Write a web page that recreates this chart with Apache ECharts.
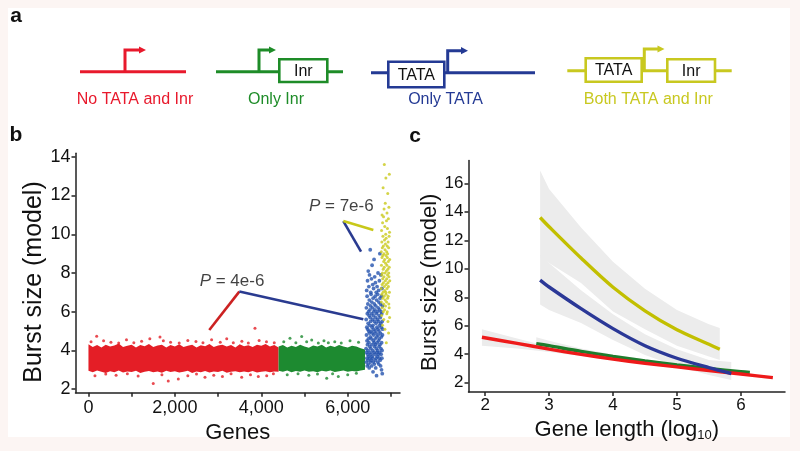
<!DOCTYPE html>
<html><head><meta charset="utf-8">
<script src="https://cdn.jsdelivr.net/npm/echarts@6/dist/echarts.min.js"></script>
<style>
html,body{margin:0;padding:0;background:#fcf5f3;}
#bg{position:absolute;left:8px;top:8px;width:782px;height:429px;background:#fff;}
#c{position:absolute;left:0;top:0;width:800px;height:451px;}
</style>
</head><body><div id="bg"></div><div id="c"></div>
<script>
// ---------------- DATA ----------------
// Panel a
const promoterNames = ['No TATA and Inr', 'Only Inr', 'Only TATA', 'Both TATA and Inr'];
const promoterBoxes = [[], ['Inr'], ['TATA'], ['TATA', 'Inr']];

// Panel b
const bXTicks = [0, 1000, 2000, 3000, 4000, 5000, 6000, 7000];
const bXLabels = [0, 2000, 4000, 6000];
const bYTicks = [2, 4, 6, 8, 10, 12, 14];
const envelopeStep = 100;
const redStartGene = 0;
const redUpper = [4.32,4.18,4.28,4.15,4.3,4.2,4.26,4.36,4.18,4.24,4.3,4.16,4.28,4.22,4.34,4.18,4.26,4.3,4.15,4.28,4.2,4.32,4.18,4.25,4.3,4.16,4.27,4.22,4.33,4.18,4.26,4.3,4.2,4.28,4.15,4.32,4.22,4.27,4.18,4.3,4.24,4.34,4.2,4.28,4.15];
const redLower = [2.95,2.88,2.96,2.9,2.84,2.93,2.88,2.96,2.86,2.92,2.89,2.95,2.84,2.9,2.94,2.87,2.92,2.85,2.95,2.89,2.93,2.86,2.9,2.95,2.84,2.91,2.88,2.94,2.86,2.92,2.89,2.95,2.85,2.9,2.93,2.87,2.92,2.88,2.94,2.86,2.9,2.93,2.87,2.92,2.9];
const greenStartGene = 4400;
const greenUpper = [4.2,4.28,4.15,4.25,4.18,4.3,4.2,4.14,4.26,4.2,4.3,4.16,4.24,4.18,4.28,4.2,4.15,4.25,4.2,4.12,4.05];
const greenLower = [2.95,2.9,2.96,2.88,2.94,2.9,2.97,2.9,2.93,2.88,2.95,2.91,2.96,2.89,2.93,2.97,2.9,2.94,2.92,2.96,3.0];
const redOutliers = [[190,4.74],[60,4.45],[350,4.5],[520,4.42],[700,4.38],[880,4.55],[1050,4.4],[1230,4.48],[1420,4.6],[1655,4.7],[1733,4.5],[1900,4.42],[2100,4.38],[2300,4.52],[2488,4.46],[2650,4.4],[2850,4.55],[3050,4.42],[3200,4.6],[3352,4.4],[3550,4.48],[3700,4.38],[3854,5.15],[3950,4.52],[4120,4.45],[4300,4.4],
  [150,2.7],[400,2.78],[640,2.72],[900,2.8],[1150,2.68],[1500,2.3],[1700,2.75],[1847,2.43],[2079,2.53],[2300,2.7],[2500,2.78],[2697,2.62],[2900,2.72],[3100,2.65],[3300,2.8],[3546,2.62],[3750,2.75],[3931,2.65],[4125,2.7],[4280,2.8]];
const greenOutliers = [[4520,4.45],[4664,4.63],[4800,4.4],[4935,4.72],[5050,4.45],[5166,4.54],[5320,4.38],[5450,4.5],[5551,4.4],[5700,4.45],[5850,4.38],[6053,4.5],[6250,4.42],
  [4600,2.75],[4850,2.8],[5100,2.72],[5300,2.78],[5514,2.57],[5650,2.8],[5782,2.65],[6000,2.75],[6200,2.82]];
const blueStartGene = 6425, blueGeneStep = 2.4;
const blueValues = [4.1,5.6,3.4,6.2,4.8,3.9,7.1,5.2,3.6,4.5,6.8,3.2,5.9,4.3,7.6,3.8,5.1,6.4,4.0,3.5,
  5.4,8.1,4.6,3.3,6.0,5.0,3.7,7.3,4.4,5.8,3.1,6.6,4.9,7.9,3.6,5.3,4.2,6.1,3.9,5.7,
  9.2,4.7,3.4,6.3,5.5,7.0,4.1,3.8,6.9,5.0,3.5,4.6,7.7,5.9,3.2,6.5,4.3,5.2,8.4,3.7,
  4.9,6.2,3.6,5.6,7.4,4.0,5.3,2.9,6.7,4.5,5.8,3.4,7.2,4.8,6.0,3.9,5.1,8.7,4.4,6.4,
  3.3,5.5,4.2,7.8,3.8,6.1,5.0,4.6,6.8,3.5,7.5,4.3,5.7,3.1,6.3,4.9,5.4,3.6,7.0,4.1,
  5.9,2.7,6.6,4.7,3.9,5.2,7.3,4.4,6.0,3.7,5.6,4.0,6.9,3.4,5.1,8.0,4.8,6.2,3.8,5.5,
  4.5,7.1,3.3,6.5,5.0,4.2,5.8,3.6,7.6,4.6,6.1,3.9,5.3,9.0,4.3,6.7,3.5,5.7,4.9,6.4,
  3.2,5.4,7.9,4.1,6.0,3.8,5.2,4.7,6.8,3.0,4.4,5.9,3.6,7.2,4.0,5.5,2.8,6.3,4.8,5.1];
const yellowStartGene = 6775, yellowGeneStep = 2;
const yellowValues = [7.2,9.1,6.5,8.4,10.2,5.8,7.9,9.6,6.9,8.8,11.0,7.4,6.2,9.3,8.0,5.3,10.6,7.7,8.9,6.7,
  9.9,7.0,12.4,8.2,6.0,9.4,7.5,10.9,6.4,8.6,5.6,9.0,7.8,11.3,6.8,8.3,13.6,7.3,9.7,6.1,
  8.7,10.4,7.1,5.1,9.2,8.0,6.6,11.6,7.6,9.5,6.3,8.5,10.0,7.0,12.9,8.9,6.9,9.8,7.4,4.4,
  8.1,10.7,6.5,9.1,7.7,5.9,8.4,11.1,7.2,9.4,6.0,8.8,10.3,7.9,6.7,9.0,12.1,8.2,5.5,7.5,
  9.6,6.8,8.6,10.8,7.3,4.9,9.3,8.0,6.4,11.4,7.8,9.9,6.2,8.3,13.1,7.0,10.1,5.7,8.7,7.6];
// significance brackets (gene, burst size)
const bracket1Red = [[2796,5.06],[3491,7.04]];
const bracket1Blue = [[3491,7.04],[6361,5.61]];
const bracket1Text = {at:[3322,7.56], p:'4e-6'};
const bracket2Blue = [[5898,10.68],[6308,9.1]];
const bracket2Yellow = [[5898,10.68],[6593,10.22]];
const bracket2Text = {at:[5852,11.43], p:'7e-6'};

// Panel c
const cXTicks = [2, 3, 4, 5, 6];
const cYTicks = [2, 4, 6, 8, 10, 12, 14, 16];
const redLen = [1.95,2.5,3,3.5,4,4.5,5,5.5,6,6.5];
const redFit = [5.19,4.76,4.36,3.99,3.66,3.37,3.11,2.86,2.61,2.36];
const redCiLen = [1.95,2.5,3,3.5,4,5,6,6.5];
const redCiUp = [5.75,5.1,4.55,4.08,3.72,3.18,2.68,2.42];
const redCiLo = [4.6,4.4,4.15,3.88,3.58,3.08,2.56,2.22];
const greenLen = [2.8,3,3.5,4,4.5,5,5.5,6,6.14];
const greenFit = [4.75,4.6,4.2,3.85,3.53,3.25,3.0,2.78,2.72];
const greenCiLen = [2.8,3,3.5,4,5,6,6.14];
const greenCiUp = [5.2,4.95,4.4,3.98,3.32,2.86,2.8];
const greenCiLo = [4.35,4.27,4.0,3.72,3.18,2.7,2.62];
const blueLen = [2.86,3,3.5,4,4.5,5,5.5,5.85];
const blueFit = [9.2,8.72,7.2,5.8,4.6,3.72,3.06,2.65];
const blueCiUp = [11.0,10.4,8.5,6.8,5.4,4.35,3.6,3.45];
const blueCiLo = [7.5,7.1,6.2,5.0,3.95,3.15,2.55,2.2];
const yellowLen = [2.86,3,3.5,4,4.5,5,5.5,5.67];
const yellowFit = [13.6,12.95,10.75,8.7,7.05,5.72,4.7,4.35];
const yellowCiUp = [16.9,15.6,12.9,10.5,8.6,7.1,6.1,5.85];
const yellowCiLo = [10.8,10.4,9.0,7.0,5.75,4.6,3.85,3.6];

// ---------------- STYLE ----------------
const FONT = '"Liberation Sans", Arial, sans-serif';
const C = {red:'#e8192c', green:'#1e8c28', blue:'#243a94', yellow:'#c8c820'};
const PT = {red:'#e41e26', green:'#1d8a30', blue:'#2453ae', yellow:'#c9c91c'};
const FIT = {red:'#ee1a1a', green:'#1e7d2c', blue:'#2b3897', yellow:'#c2bf00'};
const axisLine = {onZero:false, lineStyle:{color:'#222', width:1.5}};
const tickStyle = {lineStyle:{color:'#222', width:1.5}, length:4};

// ---------- helpers ----------
function envelopeRows(start, up, lo) {
  return up.map((u, i) => [start + i * envelopeStep, lo[i], u]);
}
function bandSeries(rows, color, xi, extra) {
  return Object.assign({
    type:'custom', xAxisIndex:xi, yAxisIndex:xi, silent:true,
    data: rows, encode:{x:0, y:[1,2]},
    renderItem: function(params, api) {
      if (params.dataIndex !== 0) return null;
      const top = rows.map(r => api.coord([r[0], r[2]]));
      const bot = rows.map(r => api.coord([r[0], r[1]])).reverse();
      return {type:'polygon', shape:{points: top.concat(bot), smooth:0}, style:{fill: color}};
    }
  }, extra || {});
}
function ciRows(xs, lo, up) { return xs.map((x, i) => [x, lo[i], up[i]]); }
function zip(xs, ys) { return xs.map((x, i) => [x, ys[i]]); }
function indexed(start, step, vals) { return vals.map((v, i) => [start + i * step, v]); }

// ---------- panel a graphics ----------
const aLayout = [
  {lx:[80,186], y:71.7, ax:125, top:50, tip:146, boxes:[], labelX:135},
  {lx:[216,343], y:71.7, ax:259, top:50, tip:276, boxes:[[279.3,327.3,59.3,82]], labelX:276},
  {lx:[371,535], y:72.7, ax:447.7, top:50.7, tip:468, boxes:[[388.3,444.3,61.7,87.3]], labelX:445.5},
  {lx:[567.3,731.7], y:70.7, ax:644.3, top:49, tip:664.5, boxes:[[585.7,641.7,58.3,81.7],[667.3,715,59.3,81.7]], labelX:648.3}
];
const keys = ['red','green','blue','yellow'];
const graphics = [];
aLayout.forEach((L, k) => {
  const col = C[keys[k]];
  graphics.push({type:'line', shape:{x1:L.lx[0], y1:L.y, x2:L.lx[1], y2:L.y}, style:{stroke:col, lineWidth:3}});
  graphics.push({type:'polyline', shape:{points:[[L.ax, L.y], [L.ax, L.top], [L.tip - 6, L.top]]}, style:{stroke:col, lineWidth:3, fill:null}});
  graphics.push({type:'polygon', shape:{points:[[L.tip - 7, L.top - 3.6], [L.tip, L.top], [L.tip - 7, L.top + 3.6]]}, style:{fill:col}});
  L.boxes.forEach((b, j) => {
    graphics.push({type:'rect', shape:{x:b[0], y:b[2], width:b[1]-b[0], height:b[3]-b[2]}, style:{fill:'#fff', stroke:col, lineWidth:2.6}});
    graphics.push({type:'text', x:(b[0]+b[1])/2, y:(b[2]+b[3])/2 + 1, style:{text:promoterBoxes[k][j], font:'16px ' + FONT, fill:'#111', align:'center', verticalAlign:'middle'}});
  });
  graphics.push({type:'text', x:L.labelX, y:100, style:{text:promoterNames[k], font:'16px ' + FONT, fill:col, align:'center', verticalAlign:'middle'}});
});
[['a',16,16],['b',16,135],['c',415,136]].forEach(t => {
  graphics.push({type:'text', x:t[1], y:t[2], style:{text:t[0], font:'bold 21px ' + FONT, fill:'#111', align:'center', verticalAlign:'middle'}});
});

// ---------- chart ----------
const chart = echarts.init(document.getElementById('c'));
const pLabel = (t) => ({
  type:'scatter', xAxisIndex:0, yAxisIndex:0, symbolSize:0, silent:true,
  data:[t.at],
  label:{show:true, position:'inside', formatter:'{i|P} = ' + t.p, color:'#111', fontSize:17, fontFamily:FONT,
    rich:{i:{fontStyle:'italic', fontSize:17, fontFamily:FONT, color:'#111'}}}
});
const seg = (d, color) => ({type:'line', xAxisIndex:0, yAxisIndex:0, data:d, symbol:'none', silent:true,
  lineStyle:{color:color, width:2.6}, z:4});
const fitLine = (xs, ys, color, z) => ({type:'line', xAxisIndex:1, yAxisIndex:1, data:zip(xs, ys), symbol:'none',
  smooth:0.3, lineStyle:{color:color, width:3.4}, z:z, silent:true});

const option = {
  animation:false,
  textStyle:{fontFamily:FONT},
  graphic:{elements:graphics},
  grid:[
    {left:75.5, top:153.3, width:324.5, height:239.4},
    {left:468.5, top:160.5, width:316.5, height:231.5}
  ],
  xAxis:[
    {type:'value', gridIndex:0, min:-300, max:7210, axisLine:axisLine, splitLine:{show:false},
     axisTick:Object.assign({customValues:bXTicks}, tickStyle),
     axisLabel:{customValues:bXLabels, formatter:v => Number(v).toLocaleString('en-US'), fontSize:18, color:'#111', margin:6, fontFamily:FONT},
     name:'Genes', nameLocation:'middle', nameGap:25, nameTextStyle:{fontSize:22, color:'#111', fontFamily:FONT}},
    {type:'value', gridIndex:1, min:1.74, max:6.69, axisLine:axisLine, splitLine:{show:false},
     axisTick:Object.assign({customValues:cXTicks}, tickStyle),
     axisLabel:{customValues:cXTicks, fontSize:17, color:'#111', margin:5, fontFamily:FONT},
     name:'Gene length (log{sub|10}{n|)}', nameLocation:'middle', nameGap:23,
     nameTextStyle:{fontSize:22, color:'#111', fontFamily:FONT,
       rich:{sub:{fontSize:13, color:'#111', fontFamily:FONT, padding:[12,0,0,0]}, n:{fontSize:22, color:'#111', fontFamily:FONT}}}}
  ],
  yAxis:[
    {type:'value', gridIndex:0, min:1.82, max:14.18, axisLine:axisLine, splitLine:{show:false},
     axisTick:Object.assign({customValues:bYTicks}, tickStyle),
     axisLabel:{customValues:bYTicks, fontSize:18, color:'#111', margin:5, fontFamily:FONT},
     name:'Burst size (model)', nameLocation:'middle', nameGap:25,
     nameTextStyle:{fontSize:25, color:'#111', fontFamily:FONT, padding:[0,18,0,0]}},
    {type:'value', gridIndex:1, min:1.35, max:17.6, axisLine:axisLine, splitLine:{show:false},
     axisTick:Object.assign({customValues:cYTicks}, tickStyle),
     axisLabel:{customValues:cYTicks, fontSize:17, color:'#111', margin:5, fontFamily:FONT},
     name:'Burst size (model)', nameLocation:'middle', nameGap:25,
     nameTextStyle:{fontSize:22, color:'#111', fontFamily:FONT, padding:[0,12,0,0]}}
  ],
  series:[
    bandSeries(envelopeRows(redStartGene, redUpper, redLower), PT.red, 0, {z:2}),
    bandSeries(envelopeRows(greenStartGene, greenUpper, greenLower), PT.green, 0, {z:2}),
    {type:'scatter', xAxisIndex:0, yAxisIndex:0, data:redOutliers, symbolSize:3, itemStyle:{color:PT.red}, silent:true},
    {type:'scatter', xAxisIndex:0, yAxisIndex:0, data:greenOutliers, symbolSize:3, itemStyle:{color:PT.green}, silent:true},
    {type:'scatter', xAxisIndex:0, yAxisIndex:0, data:indexed(blueStartGene, blueGeneStep, blueValues), symbolSize:3.8, itemStyle:{color:PT.blue}, silent:true},
    {type:'scatter', xAxisIndex:0, yAxisIndex:0, data:indexed(yellowStartGene, yellowGeneStep, yellowValues), symbolSize:3, itemStyle:{color:PT.yellow}, silent:true},
    seg(bracket1Red, '#cc2222'), seg(bracket1Blue, '#2a3b90'),
    seg(bracket2Blue, '#2a3b90'), seg(bracket2Yellow, '#c8c81a'),
    pLabel(bracket1Text), pLabel(bracket2Text),
    // panel c confidence bands
    bandSeries(ciRows(yellowLen, yellowCiLo, yellowCiUp), '#ececec', 1, {z:1}),
    bandSeries(ciRows(blueLen, blueCiLo, blueCiUp), '#ececec', 1, {z:1}),
    bandSeries(ciRows(greenCiLen, greenCiLo, greenCiUp), '#ececec', 1, {z:1}),
    bandSeries(ciRows(redCiLen, redCiLo, redCiUp), '#ececec', 1, {z:1}),
    fitLine(greenLen, greenFit, FIT.green, 3),
    fitLine(redLen, redFit, FIT.red, 4),
    fitLine(blueLen, blueFit, FIT.blue, 5),
    fitLine(yellowLen, yellowFit, FIT.yellow, 5)
  ]
};
chart.setOption(option);
</script></body></html>
